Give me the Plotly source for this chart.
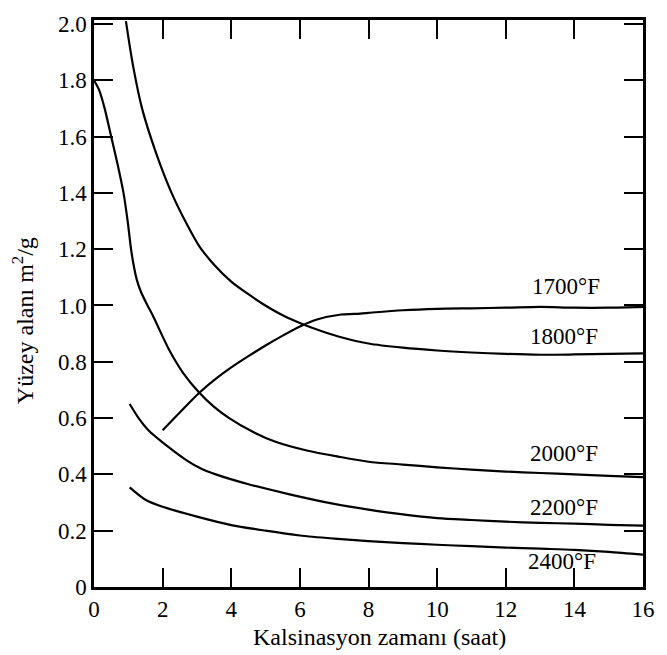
import plotly.graph_objects as go

# Data
x_1700 = [2.0, 2.5, 3.07, 3.5, 4.0, 4.5, 5.0, 5.5, 6.05, 6.5, 7.2, 7.6, 8, 9, 10, 11, 12, 13, 14, 15, 16]
y_1700 = [0.557, 0.62, 0.69, 0.735, 0.78, 0.82, 0.858, 0.893, 0.928, 0.95, 0.968, 0.97, 0.974, 0.983, 0.988, 0.99, 0.992, 0.995, 0.992, 0.992, 0.995]

x_1800 = [0.93, 1.14, 1.4, 1.8, 2.26, 2.7, 3.07, 3.5, 4.0, 4.5, 4.9, 5.5, 6.05, 6.6, 7.12, 8, 9, 10, 11, 12, 13, 14, 15, 16]
y_1800 = [2.01, 1.85, 1.70, 1.545, 1.40, 1.29, 1.21, 1.145, 1.085, 1.04, 1.007, 0.965, 0.935, 0.91, 0.89, 0.865, 0.85, 0.84, 0.833, 0.828, 0.825, 0.826, 0.828, 0.83]

x_2000 = [0, 0.15, 0.31, 0.50, 0.69, 0.86, 0.98, 1.08, 1.16, 1.25, 1.37, 1.56, 1.71, 2.2, 2.6, 3.07, 3.5, 3.94, 4.6, 5.29, 6.2, 7.12, 8, 9, 10, 11, 12, 13, 14, 15, 16]
y_2000 = [1.80, 1.765, 1.70, 1.60, 1.50, 1.40, 1.30, 1.20, 1.14, 1.09, 1.048, 1.00, 0.965, 0.84, 0.76, 0.69, 0.64, 0.60, 0.553, 0.516, 0.485, 0.463, 0.445, 0.435, 0.425, 0.417, 0.41, 0.405, 0.40, 0.395, 0.39]

x_2200 = [1.04, 1.3, 1.6, 2.1, 2.7, 3.1, 3.55, 4.5, 5.67, 7, 8, 9, 10, 11, 12, 13, 14, 15, 16]
y_2200 = [0.65, 0.60, 0.555, 0.504, 0.45, 0.422, 0.40, 0.365, 0.33, 0.295, 0.275, 0.258, 0.245, 0.238, 0.232, 0.228, 0.225, 0.221, 0.218]

x_2400 = [1.04, 1.5, 2, 3, 4, 5, 6, 7, 8, 9, 10, 11, 12, 13, 14, 15, 16]
y_2400 = [0.354, 0.31, 0.285, 0.25, 0.22, 0.20, 0.183, 0.172, 0.163, 0.156, 0.15, 0.145, 0.14, 0.136, 0.132, 0.125, 0.115]

series_names = ["1700°F", "1800°F", "2000°F", "2200°F", "2400°F"]
label_x = [13.75, 13.7, 13.7, 13.7, 13.65]
label_y = [1.067, 0.89, 0.475, 0.282, 0.09]

y_tickvals = [0, 0.2, 0.4, 0.6, 0.8, 1.0, 1.2, 1.4, 1.6, 1.8, 2.0]
y_ticktext = ["0", "0.2", "0.4", "0.6", "0.8", "1.0", "1.2", "1.4", "1.6", "1.8", "2.0"]
x_tickvals = [0, 2, 4, 6, 8, 10, 12, 14, 16]

FONT = "Liberation Serif"

fig = go.Figure()
for xs, ys, name in [(x_1700, y_1700, series_names[0]), (x_1800, y_1800, series_names[1]),
                     (x_2000, y_2000, series_names[2]), (x_2200, y_2200, series_names[3]),
                     (x_2400, y_2400, series_names[4])]:
    fig.add_trace(go.Scatter(x=xs, y=ys, mode="lines", name=name,
                             line=dict(color="black", width=2.2, shape="spline", smoothing=0.8),
                             showlegend=False, cliponaxis=True))

for name, lx, ly in zip(series_names, label_x, label_y):
    fig.add_annotation(x=lx, y=ly, text=name, showarrow=False,
                       font=dict(family=FONT, size=23, color="black"))

fig.add_annotation(xref="paper", yref="paper", x=0.52, y=-0.0875, text="Kalsinasyon zamanı (saat)",
                   showarrow=False, font=dict(family=FONT, size=24, color="black"), yanchor="middle")
fig.add_annotation(xref="paper", yref="paper", x=-0.13, y=0.47, text="Yüzey alanı m<sup>2</sup>/g",
                   textangle=-90, showarrow=False, font=dict(family=FONT, size=24, color="black"),
                   xanchor="center", yanchor="middle")

axis_common = dict(showline=True, linecolor="black", linewidth=2.5, mirror="ticks",
                   ticks="inside", ticklen=19, tickwidth=2, tickcolor="black",
                   showgrid=False, zeroline=False,
                   tickfont=dict(family=FONT, size=23, color="black"))

fig.update_xaxes(range=[0, 16], tickvals=x_tickvals, **axis_common)
fig.update_yaxes(range=[0, 2.014], tickvals=y_tickvals, ticktext=y_ticktext, **axis_common)

fig.update_layout(width=667, height=655, margin=dict(l=94, r=20, t=13, b=68),
                  plot_bgcolor="white", paper_bgcolor="white",
                  font=dict(family=FONT, color="black"))

fig.write_html("out.html")
